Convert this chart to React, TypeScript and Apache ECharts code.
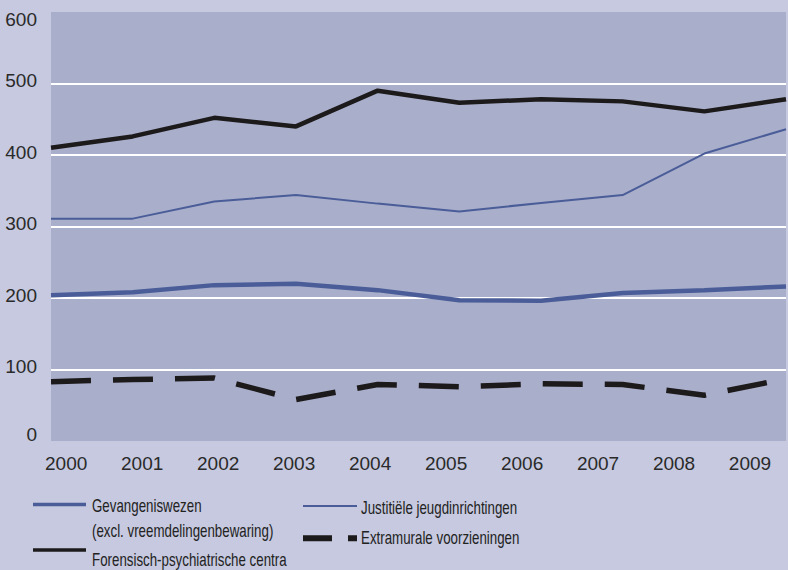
import React, { useEffect, useRef } from 'react';
import * as echarts from 'echarts';

const years = ['2000', '2001', '2002', '2003', '2004', '2005', '2006', '2007', '2008', '2009'];
const gevangeniswezen = [204, 208, 218, 220, 211, 197, 196, 207, 211, 216];
const justitiele = [311, 311, 335, 344, 332, 321, 333, 344, 402, 436];
const forensisch = [410, 426, 452, 440, 490, 473, 478, 475, 461, 478];
const extramurale = [83, 86, 88, 58, 79, 76, 80, 79, 64, 87];

const NAME_G = 'Gevangeniswezen';
const NAME_G_SUB = '(excl. vreemdelingenbewaring)';
const NAME_J = 'Justitiële jeugdinrichtingen';
const NAME_F = 'Forensisch-psychiatrische centra';
const NAME_E = 'Extramurale voorzieningen';

const BLUE = '#4a5d98';
const BLACK = '#1d1a1b';
const TEXT = '#2a2a2a';
const AXIS_FONT = "'Liberation Sans', Arial, sans-serif";

export default function App() {
  const ref = useRef<HTMLDivElement>(null);
  useEffect(() => {
    if (!ref.current) return;
    const chart = echarts.init(ref.current, undefined, { renderer: 'svg' });

    const legendTextStyle = (text: string) => ({
      text, x: 0, y: 0, fill: '#222', fontSize: 18, fontFamily: AXIS_FONT,
      align: 'left', verticalAlign: 'middle',
    });
    const legendText = (text: string, x: number, y: number) => ({
      type: 'text', x, y, scaleX: 0.74, silent: true, style: legendTextStyle(text),
    });
    const legendLine = (x1: number, x2: number, y: number, stroke: string, lineWidth: number, lineDash?: number[]) => ({
      type: 'line', silent: true,
      shape: { x1, y1: y, x2, y2: y },
      style: { stroke, lineWidth, lineDash },
    });

    const option: any = {
      animation: false,
      backgroundColor: '#c6c9df',
      grid: [
        { left: 51, right: 2, top: 12, bottom: 129, show: true, backgroundColor: '#a9aecb', borderWidth: 0 },
        { left: 28.2, right: -16.2, top: 12, bottom: 129, show: false },
      ],
      xAxis: [
        {
          type: 'category', gridIndex: 0, data: years, boundaryGap: false,
          axisLine: { show: false }, axisTick: { show: false }, axisLabel: { show: false }, splitLine: { show: false },
        },
        {
          type: 'category', gridIndex: 1, data: years, boundaryGap: true,
          axisLine: { show: false }, axisTick: { show: false }, splitLine: { show: false },
          axisLabel: { margin: 13, fontSize: 19, color: TEXT, fontFamily: AXIS_FONT },
        },
      ],
      yAxis: [
        {
          type: 'value', gridIndex: 0, min: 0, max: 600, interval: 100,
          axisLine: { show: false }, axisTick: { show: false },
          splitLine: { show: true, showMinLine: false, showMaxLine: false, lineStyle: { color: '#ffffff', width: 2 } },
          axisLabel: {
            margin: 14, fontSize: 19, color: TEXT, fontFamily: AXIS_FONT,
            formatter: (v: number) => (v === 600 ? `{top|${v}}` : v === 0 ? `{bot|${v}}` : `{n|${v}}`),
            rich: {
              top: { fontSize: 19, color: TEXT, fontFamily: AXIS_FONT, padding: [14, 0, 0, 0] },
              bot: { fontSize: 19, color: TEXT, fontFamily: AXIS_FONT, padding: [0, 0, 14, 0] },
              n: { fontSize: 19, color: TEXT, fontFamily: AXIS_FONT, padding: [0, 0, 6, 0] },
            },
          },
        },
        { type: 'value', gridIndex: 1, min: 0, max: 600, show: false },
      ],
      graphic: [
        legendLine(33, 86, 504.5, BLUE, 3.5),
        legendText(NAME_G, 92, 506),
        legendText(NAME_G_SUB, 92, 531),
        legendLine(33, 86, 550, BLACK, 3.5),
        legendText(NAME_F, 92, 559.5),
        legendLine(303, 357, 506, BLUE, 1.8),
        legendText(NAME_J, 361, 507.5),
        legendLine(303, 357, 538.3, BLACK, 6, [29, 16]),
        legendText(NAME_E, 361, 538),
      ],
      series: [
        {
          name: `${NAME_G} ${NAME_G_SUB}`, type: 'line', xAxisIndex: 0, yAxisIndex: 0, data: gevangeniswezen,
          symbol: 'none', lineStyle: { color: BLUE, width: 4.5 }, itemStyle: { color: BLUE },
        },
        {
          name: NAME_J, type: 'line', xAxisIndex: 0, yAxisIndex: 0, data: justitiele,
          symbol: 'none', lineStyle: { color: BLUE, width: 2 }, itemStyle: { color: BLUE },
        },
        {
          name: NAME_F, type: 'line', xAxisIndex: 0, yAxisIndex: 0, data: forensisch,
          symbol: 'none', lineStyle: { color: BLACK, width: 4.5 }, itemStyle: { color: BLACK },
        },
        {
          name: NAME_E, type: 'line', xAxisIndex: 0, yAxisIndex: 0, data: extramurale,
          symbol: 'none', lineStyle: { color: BLACK, width: 5.5, type: [40, 22] }, itemStyle: { color: BLACK },
        },
      ],
    };
    chart.setOption(option);
    return () => chart.dispose();
  }, []);
  return <div ref={ref} style={{ position: 'fixed', left: 0, top: 0, width: 788, height: 570 }} />;
}
